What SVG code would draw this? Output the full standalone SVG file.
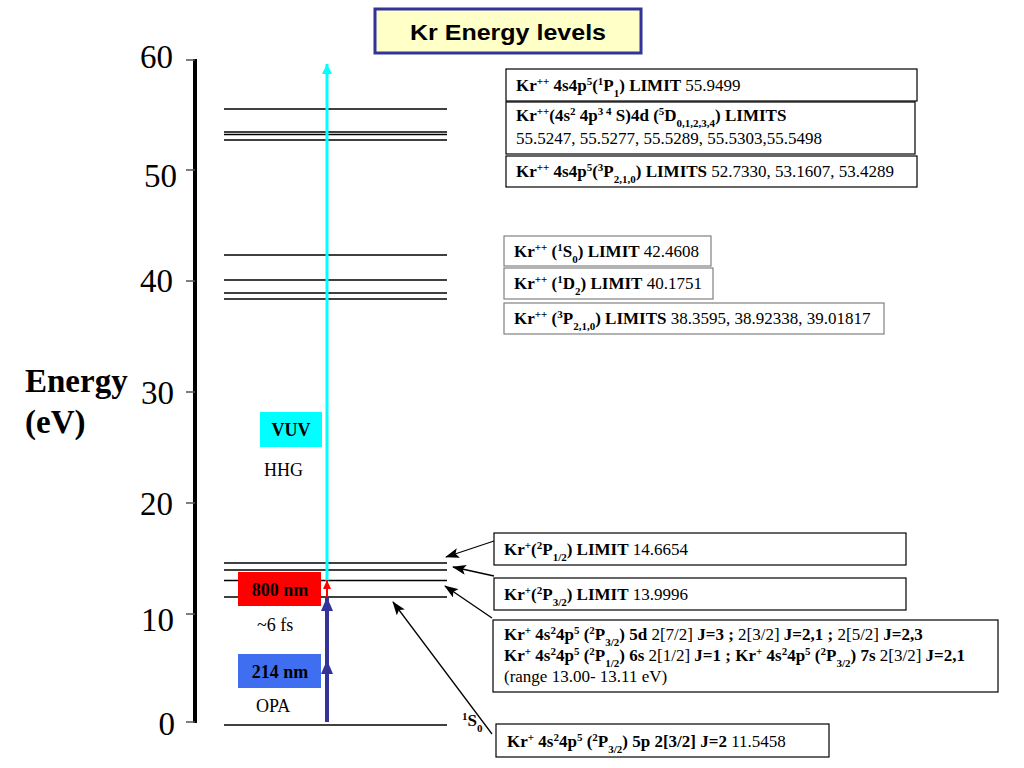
<svg xmlns="http://www.w3.org/2000/svg" width="1024" height="768" viewBox="0 0 1024 768">
<defs>
<style>
.t{font-family:'Liberation Serif','Times New Roman',serif;font-size:17px;fill:#000}
.f{font-family:'Liberation Serif','Times New Roman',serif;fill:#000}
.b{font-weight:bold}
.sup{font-size:11px;baseline-shift:super}
.sub{font-size:11px;baseline-shift:sub}
.box{fill:#fff;stroke:#000;stroke-width:1.2}
.gbox{fill:#fff;stroke:#808080;stroke-width:1.2}
.lvl{stroke:#000;stroke-width:1.4}
.tick{stroke:#555;stroke-width:1.5}
.num{font-family:'Liberation Serif','Times New Roman',serif;font-size:33px;fill:#000;text-anchor:end}
.ptr{stroke:#000;stroke-width:1.3;fill:none;marker-end:url(#ah)}
</style>
<marker id="ah" markerUnits="userSpaceOnUse" markerWidth="14" markerHeight="10" refX="13" refY="5" orient="auto"><path d="M0,0 L14,5 L0,10 L3,5 Z" fill="#000"/></marker>
<marker id="cy" markerUnits="userSpaceOnUse" markerWidth="10" markerHeight="12" refX="10" refY="5" orient="auto"><path d="M0,0 L10,5 L0,10 Z" fill="#00FFFF"/></marker>
<marker id="nv" markerUnits="userSpaceOnUse" markerWidth="14" markerHeight="14" refX="14" refY="6" orient="auto"><path d="M0,0 L14,6 L0,12 Z" fill="#333399"/></marker>
<marker id="rd" markerUnits="userSpaceOnUse" markerWidth="10" markerHeight="10" refX="9" refY="4" orient="auto"><path d="M0,0 L9,4 L0,8 Z" fill="#FF0000"/></marker>
</defs>
<rect width="1024" height="768" fill="#fff"/>

<g id="title">
<rect x="375" y="9" width="266" height="44" fill="#FFFFC8" stroke="#333399" stroke-width="3"/>
<text x="410" y="40" textLength="196" lengthAdjust="spacingAndGlyphs" font-family="'Liberation Sans',Arial,sans-serif" font-weight="bold" font-size="22">Kr Energy levels</text>
</g>

<g id="axis">
<line x1="195" y1="59" x2="195" y2="723" stroke="#000" stroke-width="4"/>
<line class="tick" x1="186" y1="60" x2="195" y2="60"/>
<line class="tick" x1="186" y1="170" x2="195" y2="170"/>
<line class="tick" x1="186" y1="281" x2="195" y2="281"/>
<line class="tick" x1="186" y1="392" x2="195" y2="392"/>
<line class="tick" x1="186" y1="503" x2="195" y2="503"/>
<line class="tick" x1="186" y1="614" x2="195" y2="614"/>
<line class="tick" x1="186" y1="722" x2="195" y2="722"/>
<text class="num" x="173" y="68">60</text>
<text class="num" x="177" y="187">50</text>
<text class="num" x="173" y="292">40</text>
<text class="num" x="174" y="404">30</text>
<text class="num" x="173" y="515">20</text>
<text class="num" x="174" y="631">10</text>
<text class="num" x="175" y="735">0</text>
<text class="f b" x="25" y="392" font-size="33">Energy</text>
<text class="f b" x="25" y="433" font-size="33">(eV)</text>
</g>

<g id="levels">
<line class="lvl" x1="224" y1="109" x2="447" y2="109"/>
<line class="lvl" x1="224" y1="132" x2="447" y2="132"/>
<line class="lvl" x1="224" y1="134.5" x2="447" y2="134.5"/>
<line class="lvl" x1="224" y1="140" x2="447" y2="140"/>
<line class="lvl" x1="224" y1="255" x2="447" y2="255"/>
<line class="lvl" x1="224" y1="280" x2="447" y2="280"/>
<line class="lvl" x1="224" y1="293" x2="447" y2="293" stroke-width="2"/>
<line class="lvl" x1="224" y1="299" x2="447" y2="299"/>
<line class="lvl" x1="224" y1="563" x2="447" y2="563"/>
<line class="lvl" x1="224" y1="570" x2="447" y2="570"/>
<line class="lvl" x1="224" y1="580.5" x2="447" y2="580.5" stroke-width="3"/>
<line class="lvl" x1="224" y1="597" x2="447" y2="597"/>
<line class="lvl" x1="224" y1="725" x2="447" y2="725"/>
<text class="t b" x="462" y="726" font-size="15"><tspan class="sup">1</tspan>S<tspan class="sub">0</tspan></text>
</g>

<g id="lasers">
<rect x="238" y="572" width="83" height="34" fill="#FF0000"/>
<text class="f b" x="280" y="596" text-anchor="middle" font-size="18">800 nm</text>
<text class="f" x="257" y="631" font-size="18">~6 fs</text>
<rect x="238" y="654" width="83" height="34" fill="#3F6FF0"/>
<text class="f b" x="280" y="678" text-anchor="middle" font-size="18">214 nm</text>
<text class="f" x="256" y="712" font-size="18">OPA</text>
<rect x="260" y="412" width="62" height="35" fill="#00FFFF"/>
<text class="f b" x="291" y="436" text-anchor="middle" font-size="18">VUV</text>
<text class="f" x="264" y="476" font-size="18">HHG</text>
</g>

<g id="connectors">
<line x1="327" y1="581" x2="327" y2="64" stroke="#00FFFF" stroke-width="3" marker-end="url(#cy)"/>
<line x1="327" y1="722" x2="327" y2="660" stroke="#333399" stroke-width="4" marker-end="url(#nv)"/>
<line x1="327" y1="668" x2="327" y2="597" stroke="#333399" stroke-width="4" marker-end="url(#nv)"/>
<line x1="327" y1="597" x2="327" y2="580" stroke="#FF0000" stroke-width="2" marker-end="url(#rd)"/>
<line class="ptr" x1="494" y1="541" x2="446" y2="557"/>
<line class="ptr" x1="494" y1="576" x2="453" y2="567"/>
<line class="ptr" x1="492" y1="618" x2="445" y2="586"/>
<line class="ptr" x1="492" y1="734" x2="393" y2="602"/>
</g>

<g id="box-1P1">
<rect class="box" x="506" y="69" width="411" height="32"/>
<text class="t" x="516" y="91"><tspan class="b">Kr<tspan class="sup">++</tspan> 4s4p<tspan class="sup">5</tspan>(<tspan class="sup">1</tspan>P<tspan class="sub">1</tspan>) LIMIT</tspan> 55.9499</text>
</g>
<g id="box-5D">
<rect class="box" x="506" y="102" width="409" height="52"/>
<text class="t" x="516" y="121"><tspan class="b">Kr<tspan class="sup">++</tspan>(4s<tspan class="sup">2</tspan> 4p<tspan class="sup">3 4</tspan> S)4d (<tspan class="sup">5</tspan>D<tspan class="sub" font-size="10px">0,1,2,3,4</tspan>) LIMITS</tspan></text>
<text class="t" x="516" y="144">55.5247, 55.5277, 55.5289, 55.5303,55.5498</text>
</g>
<g id="box-3P-dd">
<rect class="box" x="506" y="156" width="411" height="31"/>
<text class="t" x="516" y="177"><tspan class="b">Kr<tspan class="sup">++</tspan> 4s4p<tspan class="sup">5</tspan>(<tspan class="sup">3</tspan>P<tspan class="sub">2,1,0</tspan>) LIMITS</tspan> 52.7330, 53.1607, 53.4289</text>
</g>
<g id="box-1S0">
<rect class="gbox" x="504" y="236" width="207" height="30"/>
<text class="t" x="514" y="257"><tspan class="b">Kr<tspan class="sup">++</tspan> (<tspan class="sup">1</tspan>S<tspan class="sub">0</tspan>) LIMIT</tspan> 42.4608</text>
</g>
<g id="box-1D2">
<rect class="gbox" x="504" y="268" width="209" height="31"/>
<text class="t" x="514" y="289"><tspan class="b">Kr<tspan class="sup">++</tspan> (<tspan class="sup">1</tspan>D<tspan class="sub">2</tspan>) LIMIT</tspan> 40.1751</text>
</g>
<g id="box-3P">
<rect class="gbox" x="504" y="303" width="380" height="31"/>
<text class="t" x="514" y="324"><tspan class="b">Kr<tspan class="sup">++</tspan> (<tspan class="sup">3</tspan>P<tspan class="sub">2,1,0</tspan>) LIMITS</tspan> 38.3595, 38.92338, 39.01817</text>
</g>
<g id="box-2P12">
<rect class="box" x="494" y="533" width="412" height="32"/>
<text class="t" x="504" y="555"><tspan class="b">Kr<tspan class="sup">+</tspan>(<tspan class="sup">2</tspan>P<tspan class="sub">1/2</tspan>) LIMIT</tspan> 14.6654</text>
</g>
<g id="box-2P32">
<rect class="box" x="494" y="578" width="412" height="32"/>
<text class="t" x="504" y="600"><tspan class="b">Kr<tspan class="sup">+</tspan>(<tspan class="sup">2</tspan>P<tspan class="sub">3/2</tspan>) LIMIT</tspan> 13.9996</text>
</g>
<g id="box-5d">
<rect class="box" x="493" y="620" width="505" height="72"/>
<text class="t" x="504" y="640"><tspan class="b">Kr<tspan class="sup">+</tspan> 4s<tspan class="sup">2</tspan>4p<tspan class="sup">5</tspan> (<tspan class="sup">2</tspan>P<tspan class="sub">3/2</tspan>) 5d</tspan> 2[7/2] <tspan class="b">J=3 ;</tspan> 2[3/2] <tspan class="b">J=2,1 ;</tspan> 2[5/2] <tspan class="b">J=2,3</tspan></text>
<text class="t" x="504" y="661"><tspan class="b">Kr<tspan class="sup">+</tspan> 4s<tspan class="sup">2</tspan>4p<tspan class="sup">5</tspan> (<tspan class="sup">2</tspan>P<tspan class="sub">1/2</tspan>) 6s</tspan> 2[1/2] <tspan class="b">J=1  ; Kr<tspan class="sup">+</tspan> 4s<tspan class="sup">2</tspan>4p<tspan class="sup">5</tspan> (<tspan class="sup">2</tspan>P<tspan class="sub">3/2</tspan>) 7s</tspan> 2[3/2] <tspan class="b">J=2,1</tspan></text>
<text class="t" x="504" y="682" font-size="16">(range 13.00- 13.11 eV)</text>
</g>
<g id="box-5p">
<rect class="box" x="496" y="724" width="333" height="33"/>
<text class="t" x="507" y="747"><tspan class="b">Kr<tspan class="sup">+</tspan> 4s<tspan class="sup">2</tspan>4p<tspan class="sup">5</tspan> (<tspan class="sup">2</tspan>P<tspan class="sub">3/2</tspan>) 5p 2[3/2] J=2</tspan>  11.5458</text>
</g>
</svg>
